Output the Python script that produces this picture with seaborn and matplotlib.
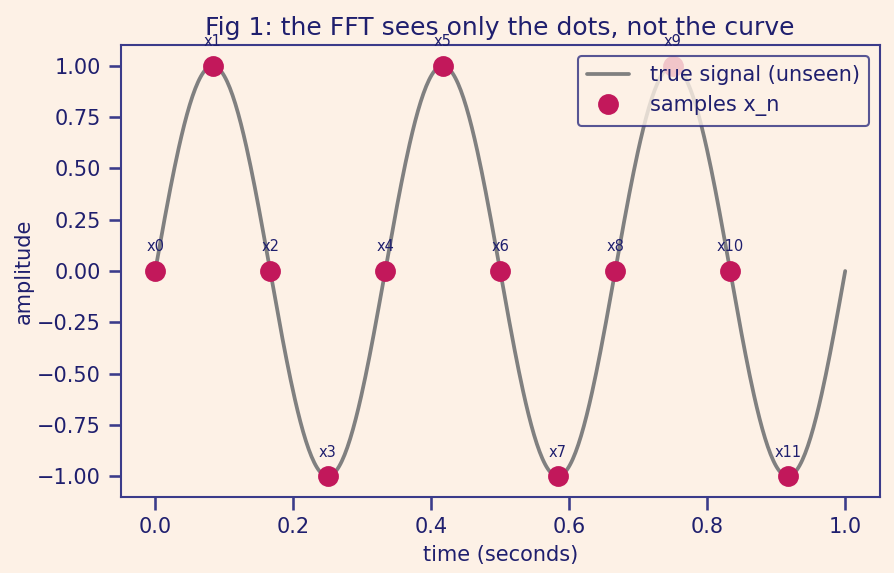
import numpy as np
import pandas as pd
import matplotlib
matplotlib.use("Agg")
import matplotlib.pyplot as plt
import seaborn as sns

# data
signal_freq_hz = 3
sample_times = [0.0, 1/12, 2/12, 3/12, 4/12, 5/12, 6/12, 7/12, 8/12, 9/12, 10/12, 11/12]
sample_values = [0, 1, 0, -1, 0, 1, 0, -1, 0, 1, 0, -1]
sample_labels = [f"x{i}" for i in range(12)]
curve_t = np.linspace(0, 1, 500)
curve_y = np.sin(2 * np.pi * signal_freq_hz * curve_t)

navy = "#1f1f6e"
bg = "#fdf1e6"
sns.set_theme(style="ticks")
plt.rcParams.update({
    "figure.facecolor": bg, "axes.facecolor": bg,
    "axes.edgecolor": "#3b3b8a", "text.color": navy,
    "axes.labelcolor": navy, "xtick.color": "#3b3b8a", "ytick.color": "#3b3b8a",
    "xtick.labelcolor": navy, "ytick.labelcolor": navy,
    "axes.unicode_minus": True,
})
plt.rcParams["font.family"] = ["DejaVu Sans"]

fig = plt.figure(figsize=(5.96, 3.82), dpi=150)
ax = fig.add_axes([0.135, 0.133, 0.849, 0.788])

df_curve = pd.DataFrame({"t": curve_t, "y": curve_y})
df_s = pd.DataFrame({"t": sample_times, "y": sample_values})
sns.lineplot(data=df_curve, x="t", y="y", ax=ax, color="#808080", linewidth=1.8,
             label="true signal (unseen)")
ax.plot(df_s["t"], df_s["y"], "o", color="#c2185b", markersize=9,
        label="samples x_n", zorder=3)
for t, v, lab in zip(sample_times, sample_values, sample_labels):
    ax.annotate(lab, (t, v), xytext=(0, 8), textcoords="offset points",
                ha="center", va="bottom", fontsize=7, color=navy)

ax.set_xlim(-0.05, 1.05)
ax.set_ylim(-1.1, 1.1)
ax.set_yticks([-1, -0.75, -0.5, -0.25, 0, 0.25, 0.5, 0.75, 1.0])
ax.tick_params(labelsize=10)
ax.set_xlabel("time (seconds)", fontsize=10)
ax.set_ylabel("amplitude", fontsize=10, labelpad=1.5)
ax.set_title("Fig 1: the FFT sees only the dots, not the curve", fontsize=12, color=navy, pad=5)
leg = ax.legend(loc="upper right", fontsize=10, framealpha=0.8, facecolor=bg,
                edgecolor="#2e2e80", fancybox=True, borderpad=0.45, handletextpad=1.0)
leg.get_frame().set_linewidth(1)
leg.set_zorder(5)
for s in ax.spines.values():
    s.set_linewidth(1)

fig.savefig("out.png", dpi=150, facecolor=bg)
